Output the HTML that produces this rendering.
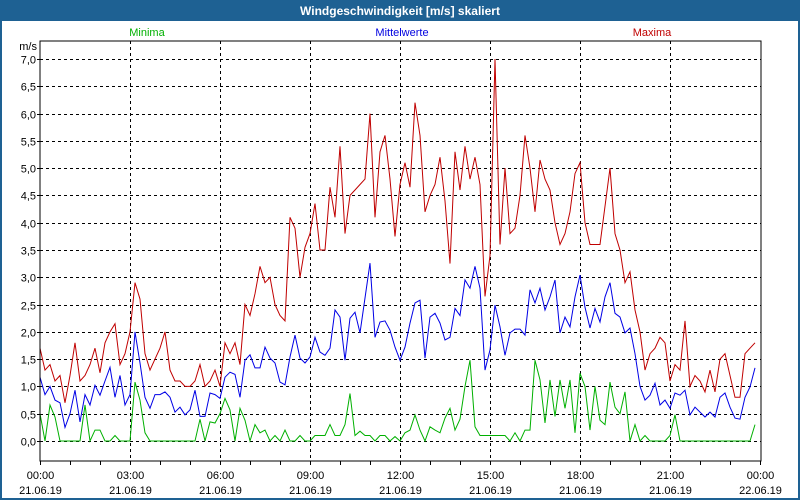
<!DOCTYPE html>
<html><head><meta charset="utf-8"><style>
html,body{margin:0;padding:0;background:#fff;}
#wrap{position:relative;width:800px;height:500px;overflow:hidden;font-family:"Liberation Sans",sans-serif;}
</style></head><body>
<div id="wrap">
<svg id="chart" width="800" height="500" xmlns="http://www.w3.org/2000/svg">
<rect x="0" y="0" width="800" height="500" fill="#ffffff" stroke="#1e6193" stroke-width="4"/>
<rect x="0" y="0" width="800" height="21" fill="#1e6193"/>
<text x="400" y="15" fill="#ffffff" font-size="12" font-weight="bold" text-anchor="middle">Windgeschwindigkeit [m/s] skaliert</text>
<text x="147" y="36" fill="#00b000" font-size="11" text-anchor="middle">Minima</text>
<text x="402" y="36" fill="#0000e0" font-size="11" text-anchor="middle">Mittelwerte</text>
<text x="652" y="36" fill="#c00000" font-size="11" text-anchor="middle">Maxima</text>
<text x="37" y="50" font-size="11" text-anchor="end" fill="#000">m/s</text>
<g id="grid"></g>
<g id="series"></g>
<rect x="40" y="41" width="721" height="420" fill="none" stroke="#000" stroke-width="1"/>
<g id="axes"></g>
</svg>
</div>
<script>
const yTicks = [0,0.5,1,1.5,2,2.5,3,3.5,4,4.5,5,5.5,6,6.5,7];
const yTickLabels = ["0,0","0,5","1,0","1,5","2,0","2,5","3,0","3,5","4,0","4,5","5,0","5,5","6,0","6,5","7,0"];
const xTickHours = [0,3,6,9,12,15,18,21,24];
const xTimeLabels = ["00:00","03:00","06:00","09:00","12:00","15:00","18:00","21:00","00:00"];
const xDateLabels = ["21.06.19","21.06.19","21.06.19","21.06.19","21.06.19","21.06.19","21.06.19","21.06.19","22.06.19"];
const maxima = [
1.7,1.3,1.4,1.1,1.2,0.7,1.2,1.8,1.1,1.2,1.4,1.7,
1.25,1.8,2.0,2.15,1.4,1.6,2.0,2.9,2.6,1.6,1.3,1.5,
1.7,2.0,1.3,1.1,1.1,1.0,1.0,1.1,1.4,1.0,1.1,1.3,
1.0,1.8,1.6,1.8,1.4,2.5,2.3,2.7,3.2,2.9,3.0,2.5,
2.3,2.2,4.1,3.9,3.0,3.55,3.8,4.35,3.5,3.5,4.65,4.1,
5.4,3.8,4.5,4.6,4.7,4.8,6.0,4.1,5.3,5.6,4.8,3.75,
4.7,5.1,4.65,6.2,5.6,4.2,4.5,4.7,5.2,4.4,3.25,5.3,
4.6,5.4,4.8,5.2,4.7,2.65,3.4,7.0,3.6,5.0,3.8,3.9,
4.5,5.6,5.0,4.2,5.15,4.8,4.6,4.0,3.6,3.8,4.2,4.9,
5.1,4.0,3.6,3.6,3.6,4.3,5.0,3.8,3.5,2.9,3.1,2.4,
2.0,1.3,1.6,1.7,1.9,1.8,1.1,1.4,1.3,2.2,1.0,1.2,
1.1,0.9,1.3,0.9,1.5,1.6,1.2,0.8,0.8,1.6,1.7,1.8];
const mittelwerte = [
1.17,0.85,1.0,0.75,0.7,0.25,0.5,0.93,0.35,0.85,0.66,1.02,
0.84,1.1,1.35,0.8,1.2,0.66,0.85,2.0,1.43,0.8,0.6,0.85,
0.85,0.9,0.8,0.53,0.62,0.48,0.57,0.93,0.45,0.45,0.88,0.85,
0.78,1.17,1.26,1.22,0.8,1.48,1.58,1.34,1.34,1.72,1.52,1.43,
1.08,1.03,1.54,1.94,1.52,1.43,1.54,1.9,1.63,1.57,1.7,2.4,
2.27,1.48,2.25,2.36,1.98,2.62,3.26,1.9,2.18,2.2,2.03,1.72,
1.48,1.72,2.16,2.53,2.58,1.52,2.27,2.34,2.16,1.85,1.9,2.43,
2.3,2.95,2.8,3.2,2.8,1.3,1.67,2.49,2.09,1.57,1.98,2.05,
2.05,1.94,2.77,2.53,2.8,2.4,2.64,2.95,1.98,2.27,2.09,2.64,
3.04,2.45,2.07,2.43,2.18,2.64,2.9,2.34,2.27,1.98,2.07,1.6,
1.0,0.75,0.84,1.06,0.66,0.75,0.6,0.88,0.84,0.93,0.48,0.62,
0.53,0.44,0.53,0.44,0.8,0.88,0.62,0.42,0.4,0.8,0.99,1.34];
const minima = [
0.5,0,0.66,0.44,0,0,0,0,0,0.66,0,0.2,
0.2,0,0,0.1,0,0,0,1.08,0.75,0.15,0,0,
0,0,0,0,0,0,0,0,0.4,0,0.35,0.33,
0.5,0.78,0.57,0,0.6,0.38,0,0.3,0.15,0.2,0,0.1,
0,0.2,0,0,0.1,0,0,0.1,0.1,0.1,0.3,0.1,
0.1,0.3,0.87,0.1,0.18,0.1,0.1,0,0.1,0.1,0,0.08,
0,0.15,0.2,0.48,0.2,0,0.26,0.2,0.15,0.42,0.6,0.2,
0.4,1.0,1.48,0.26,0.1,0.1,0.1,0.1,0.1,0.1,0,0.15,
0,0.2,0.2,1.48,1.12,0.33,1.12,0.45,1.12,0.6,1.12,0.15,
1.24,1.0,0.2,1.0,0.38,0.3,1.08,0.62,0.5,0.9,0,0.3,
0,0.1,0,0,0,0,0.1,0.48,0,0,0,0,
0,0,0,0,0,0,0,0,0,0,0,0.3];

const NS="http://www.w3.org/2000/svg";
const X0=40, X1=760, Y0=441, Y7=59;
function xScale(h){return X0+(X1-X0)*h/24;}
function yScale(v){return Y0-(Y0-Y7)*v/7;}
function mk(tag,attrs,parent){const e=document.createElementNS(NS,tag);for(const k in attrs)e.setAttribute(k,attrs[k]);parent.appendChild(e);return e;}
const grid=document.getElementById('grid'), axes=document.getElementById('axes'), series=document.getElementById('series');

yTicks.forEach((v,i)=>{
  const y=Math.round(yScale(v))+0.5;
  const l=mk('line',{x1:40,x2:761,y1:y,y2:y,stroke:'#000','stroke-width':1,'stroke-dasharray':'3,3'},grid);
  
  
  const tk=mk('line',{x1:37,x2:40,y1:y,y2:y,stroke:'#000'},axes);
  
  
  const t=mk('text',{x:36,y:y+4,'font-size':11,'text-anchor':'end',fill:'#000'},axes);
  t.textContent=yTickLabels[i];
  
  
});
for(let h=0;h<=24;h++){
  const x=Math.round(xScale(h))+0.5;
  const tk=mk('line',{x1:x,x2:x,y1:461,y2:465,stroke:'#000'},axes);
  
  
}
xTickHours.forEach((h,i)=>{
  const x=Math.round(xScale(h))+0.5;
  if(h>0&&h<24){
    const l=mk('line',{x1:x,x2:x,y1:41,y2:461,stroke:'#000','stroke-dasharray':'3,3'},grid);
    
    
  }
  const t1=mk('text',{x:x,y:479,'font-size':11,'text-anchor':'middle',fill:'#000'},axes);
  t1.textContent=xTimeLabels[i];
  
  
  const t2=mk('text',{x:x,y:494,'font-size':11,'text-anchor':'middle',fill:'#000'},axes);
  t2.textContent=xDateLabels[i];
  
  
});
function line(data,color,name){
  const pts=data.map((v,i)=>xScale(i/6).toFixed(1)+','+yScale(v).toFixed(1)).join(' ');
  const p=mk('polyline',{points:pts,fill:'none',stroke:color,'stroke-width':1},series);
  
  
}
line(minima,'#00b000','series-minima');
line(mittelwerte,'#0000e6','series-mittelwerte');
line(maxima,'#c00000','series-maxima');
</script>
</body></html>
